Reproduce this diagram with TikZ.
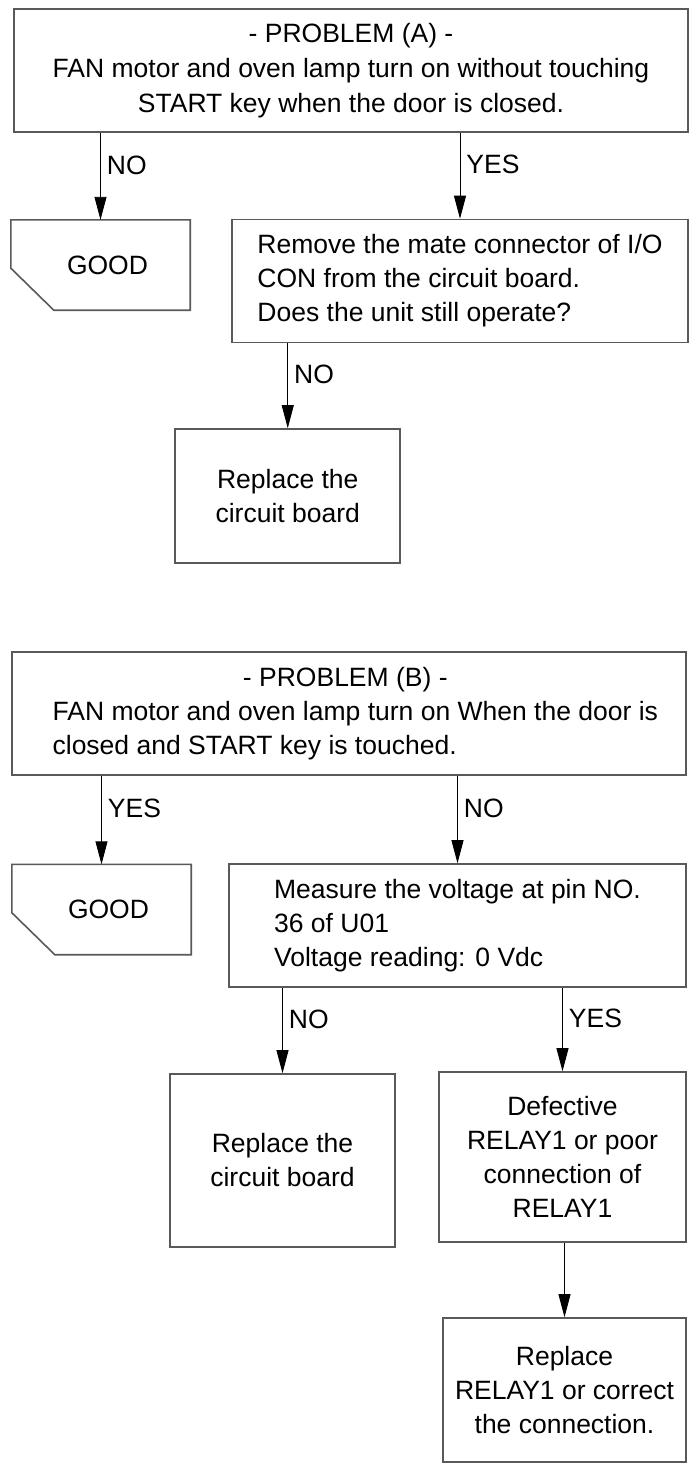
\documentclass[tikz,border=0pt]{standalone}
\usepackage{fontspec}
\setmainfont{Liberation Sans}
\usetikzlibrary{arrows.meta, positioning}

\begin{document}
\begin{tikzpicture}[
  x = 1pt, y = -1pt,
  every node/.style = {font=\fontsize{26.5}{34}\selectfont},
  boxline/.style  = {draw=black!65, line width=1.6pt},
  probbox/.style  = {rectangle, boxline, minimum width=674pt,
                     minimum height=123pt, align=center},
  askbox/.style   = {rectangle, boxline, minimum width=456pt,
                     minimum height=123pt, align=left},
  fixbox/.style   = {rectangle, boxline, align=center},
  goodbox/.style  = {rectangle, minimum width=179pt, minimum height=90pt},
  arr/.style = {-{Triangle[length=23pt, width=12pt]}, line width=0.9pt, black},
  ans/.style = {anchor=west, pos=0.37, inner xsep=6pt},
]
\useasboundingbox (0,0) rectangle (690,1469);

%% -- Problem (A) ------------------------------------------------------------
\node[probbox] at (351, 70.5) (probA) {
  - PROBLEM (A) -\\[1pt]
  FAN motor and oven lamp turn on without touching\\[1pt]
  START key when the door is closed.
};

\node[goodbox] at (100.5, 265) (goodA) {\hspace*{14pt}GOOD};
\draw[boxline] (goodA.north west) -- (goodA.north east)
  -- (goodA.south east) -- ([xshift=43pt]goodA.south west)
  -- ([yshift=42pt]goodA.south west) -- cycle;

\node[askbox] at (460, 281) (removeA) {
  Remove the mate connector of I/O\\
  CON from the circuit board.\\
  Does the unit still operate?
};

\node[fixbox, minimum width=225pt, minimum height=134pt]
  at (287.75, 496) (replA) {Replace the\\circuit board};

%% -- Problem (B) ------------------------------------------------------------
\node[probbox] at (349, 713.5) (probB) {
  \begin{tabular}{@{\hspace{10pt}}l@{\hspace{-10pt}}}
    \multicolumn{1}{@{}c@{}}{- PROBLEM (B) -}\\
    FAN motor and oven lamp turn on When the door is\\
    closed and START key is touched.
  \end{tabular}
};

\node[goodbox] at (101.5, 909.5) (goodB) {\hspace*{14pt}GOOD};
\draw[boxline] (goodB.north west) -- (goodB.north east)
  -- (goodB.south east) -- ([xshift=43pt]goodB.south west)
  -- ([yshift=42pt]goodB.south west) -- cycle;

\node[askbox, minimum width=457pt] at (457.5, 925.5) (measure) {
  Measure the voltage at pin NO.\\
  36 of U01\\
  Voltage reading: 0 Vdc
};

\node[fixbox, minimum width=225pt, minimum height=173pt]
  at (282.5, 1160.5) (replB) {Replace the\\circuit board};

\node[fixbox, minimum width=247pt, minimum height=170pt]
  at (562.5, 1157) (defect) {Defective\\RELAY1 or poor\\connection of\\RELAY1};

\node[fixbox, minimum width=243pt, minimum height=144pt]
  at (564.5, 1390) (replRelay) {Replace\\RELAY1 or correct\\the connection.};

%% -- Arrows -----------------------------------------------------------------
\draw[arr] (goodA.north |- probA.south) -- node[ans] {NO} (goodA.north);
\draw[arr] (removeA.north |- probA.south) -- node[ans] {YES} (removeA.north);
\draw[arr] (replA.north |- removeA.south) -- node[ans] {NO} (replA.north);

\draw[arr] (goodB.north |- probB.south) -- node[ans] {YES} (goodB.north);
\draw[arr] (measure.north |- probB.south) -- node[ans] {NO} (measure.north);
\draw[arr] (replB.north |- measure.south) -- node[ans] {NO} (replB.north);
\draw[arr] (defect.north |- measure.south) -- node[ans] {YES} (defect.north);
\draw[arr] (replRelay.north |- defect.south) -- (replRelay.north);

\end{tikzpicture}
\end{document}
